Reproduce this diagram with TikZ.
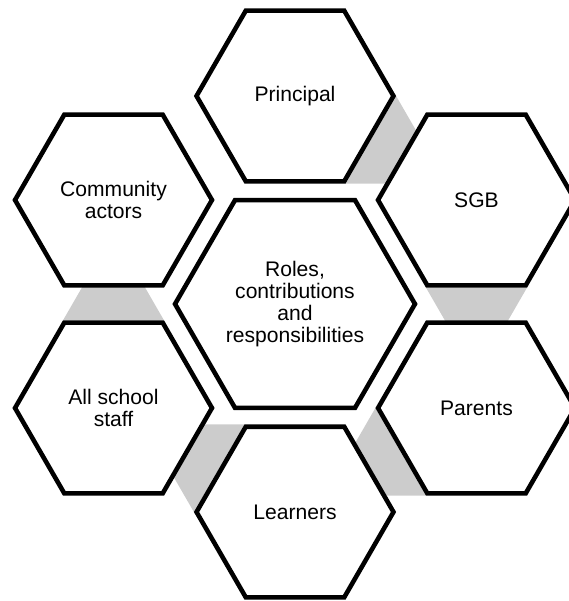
\documentclass[tikz,border=0pt]{standalone}
\usepackage{fontspec}
\setmainfont{Liberation Sans}
\usetikzlibrary{shapes.geometric,calc,backgrounds}
\definecolor{bandgray}{RGB}{204,204,204}

\begin{document}
\begin{tikzpicture}[x=0.02cm, y=-0.02cm]

\tikzset{hexbox/.style={draw, fill=white, regular polygon, regular polygon sides=6, minimum size=3.94cm, inner sep=0pt, line width=2.6pt, align=center, font=\fontsize{12}{12.5}\selectfont}}
\tikzset{corebox/.style={hexbox, minimum size=4.8cm}}
\tikzset{band/.style={fill=bandgray}}

\useasboundingbox (0, 0) rectangle (568, 601);

% centre hexagon
\node[corebox] at (295, 304) (core) {Roles,\\contributions\\and\\responsibilities};

% outer ring
\node[hexbox] at (295, 96) (prin) {Principal};
\node[hexbox] at (476.5, 200) (sgb) {SGB};
\node[hexbox] at (476.5, 408) (par) {Parents};
\node[hexbox] at (295, 512) (lrn) {Learners};
\node[hexbox] at (113.5, 408) (staff) {All school\\staff};
\node[hexbox] at (113.5, 200) (comm) {Community\\actors};

% grey links between neighbours
\begin{scope}[on background layer]
\fill[band] (prin.0) -- ($(prin.0)!-.6!(prin.60)$) -- ($(prin.300)!-.6!(prin.240)$) -- (prin.300) -- cycle;
\fill[band] (sgb.300) -- ($(sgb.300)!-.6!(sgb.0)$) -- ($(sgb.240)!-.6!(sgb.180)$) -- (sgb.240) -- cycle;
\fill[band] (par.240) -- ($(par.240)!-.6!(par.300)$) -- ($(par.180)!-.6!(par.120)$) -- (par.180) -- cycle;
\fill[band] (lrn.180) -- ($(lrn.180)!-.6!(lrn.240)$) -- ($(lrn.120)!-.6!(lrn.60)$) -- (lrn.120) -- cycle;
\fill[band] (staff.120) -- ($(staff.120)!-.6!(staff.180)$) -- ($(staff.60)!-.6!(staff.0)$) -- (staff.60) -- cycle;
\end{scope}

\end{tikzpicture}
\end{document}
